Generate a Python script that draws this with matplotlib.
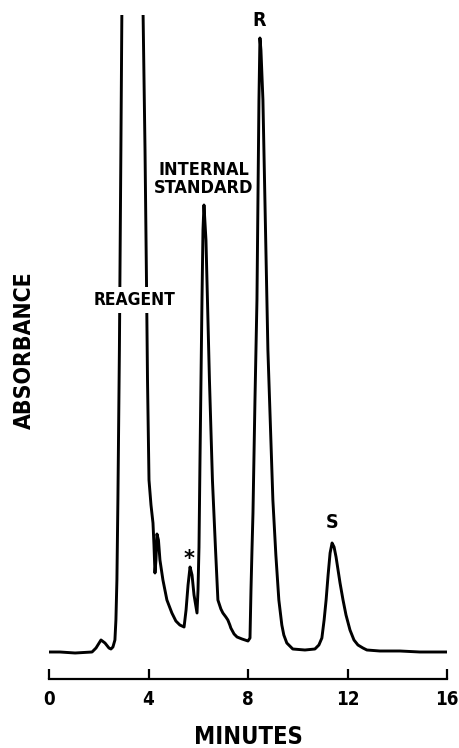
import numpy as np
import matplotlib
matplotlib.use("Agg")
import matplotlib.pyplot as plt

# ---- data: chromatogram (minutes, absorbance a.u.) ----
# baseline + reagent front (its top runs off the chart)
reagent_t = [-0.04, 0.44, 1.05, 1.73, 1.89, 2.09, 2.25, 2.41, 2.49, 2.57,
             2.65, 2.69, 2.73, 2.77, 2.83, 2.89, 2.93, 3.34, 3.78, 3.86,
             3.92, 3.96, 4.02, 4.10, 4.18, 4.22, 4.26, 4.30, 4.34, 4.40,
             4.46, 4.58, 4.74, 4.94, 5.10, 5.26, 5.43]
reagent_a = [0.00, 0.00, -0.01, 0.00, 0.04, 0.12, 0.09, 0.04, 0.03, 0.05,
             0.12, 0.32, 0.72, 1.52, 3.02, 5.02, 6.42, 9.50, 6.42, 5.02,
             3.69, 2.72, 1.72, 1.47, 1.29, 1.07, 0.79, 0.92, 1.18, 1.12,
             0.92, 0.72, 0.52, 0.39, 0.31, 0.27, 0.25]
# impurity (*) + internal standard
istd_t = [5.51, 5.59, 5.67, 5.75, 5.83, 5.95, 5.99, 6.03, 6.07, 6.11,
          6.15, 6.19, 6.23, 6.31, 6.37, 6.45, 6.57, 6.69, 6.79, 6.83,
          6.91, 6.99, 7.11, 7.19, 7.27, 7.31, 7.44, 7.56, 7.76, 8.00]
istd_a = [0.42, 0.67, 0.85, 0.77, 0.57, 0.39, 0.62, 1.05, 1.92, 2.72,
          3.52, 4.22, 4.47, 4.12, 3.52, 2.72, 1.72, 1.05, 0.52, 0.49,
          0.43, 0.39, 0.35, 0.32, 0.27, 0.24, 0.18, 0.15, 0.13, 0.11]
# R and S enantiomers + tail
rs_t = [8.08, 8.12, 8.16, 8.20, 8.28, 8.36, 8.40, 8.44, 8.48, 8.52,
        8.60, 8.80, 9.00, 9.12, 9.24, 9.36, 9.44, 9.56, 9.80, 10.29,
        10.69, 10.85, 10.97, 11.06, 11.14, 11.22, 11.30, 11.38, 11.46, 11.54,
        11.62, 11.70, 11.82, 11.94, 12.10, 12.26, 12.42, 12.62, 12.78, 13.30,
        14.11, 14.91, 16.00]
rs_a = [0.14, 0.62, 1.02, 1.39, 2.52, 3.52, 4.52, 5.52, 6.14, 6.02,
        5.52, 3.02, 1.52, 0.97, 0.52, 0.27, 0.17, 0.09, 0.03, 0.02,
        0.03, 0.07, 0.14, 0.32, 0.52, 0.77, 0.99, 1.09, 1.05, 0.95,
        0.82, 0.69, 0.52, 0.37, 0.22, 0.12, 0.07, 0.04, 0.02, 0.01,
        0.01, 0.00, 0.00]

xticks = [0, 4, 8, 12, 16]

# peak labels: (text, minutes, absorbance)
peak_labels = [("REAGENT", 3.42, 3.52),
               ("INTERNAL\nSTANDARD", 6.21, 4.73),
               ("R", 8.44, 6.32),
               ("S", 11.38, 1.29)]
star_pos = (5.63, 0.93)

# ---- figure ----
W, H = 459, 748
FONT = ["Liberation Sans Narrow", "DejaVu Sans Condensed", "DejaVu Sans"]
STRETCH = "condensed"
fig = plt.figure(figsize=(W / 100, H / 100), dpi=100)
ax = fig.add_axes([49 / W, 69 / H, 398 / W, 664 / H])

minutes = reagent_t + istd_t + rs_t
absorb = reagent_a + istd_a + rs_a
ax.plot(minutes, absorb, color="black", lw=2.1, solid_joinstyle="round")
ax.set_xlim(0, 16)
ax.set_ylim(-0.27, 6.37)

for s in ["top", "left", "right"]:
    ax.spines[s].set_visible(False)
ax.spines["bottom"].set_linewidth(1.6)
ax.set_yticks([])
ax.set_xticks(xticks)
ax.tick_params(axis="x", direction="in", length=7, width=1.6, pad=8)
for lab in ax.get_xticklabels():
    lab.set_fontfamily(FONT)
    lab.set_fontstretch(STRETCH)
    lab.set_fontweight("bold")
    lab.set_fontsize(13.5)

sizes = [12.5, 13, 14, 14]
for (txt, x, y), fs in zip(peak_labels, sizes):
    t = ax.text(x, y, txt, ha="center", va="center", fontsize=fs,
                fontweight="bold", family=FONT, stretch=STRETCH,
                linespacing=1.0, zorder=5)
    if txt == "REAGENT":
        # the label sits on a white patch that breaks the peak lines
        t.set_bbox(dict(facecolor="white", edgecolor="none", pad=3))
ax.text(*star_pos, "*", ha="center", va="center", fontsize=15,
        fontweight="bold", family="DejaVu Sans")

fig.text(248 / W, 1 - 737 / H, "MINUTES", ha="center", va="center",
         fontsize=17, fontweight="bold", family=FONT, stretch=STRETCH)
fig.text(24 / W, 1 - 350 / H, "ABSORBANCE", ha="center", va="center",
         rotation=90, fontsize=16.5, fontweight="bold", family=FONT,
         stretch=STRETCH)

fig.savefig("out.png", dpi=100)
